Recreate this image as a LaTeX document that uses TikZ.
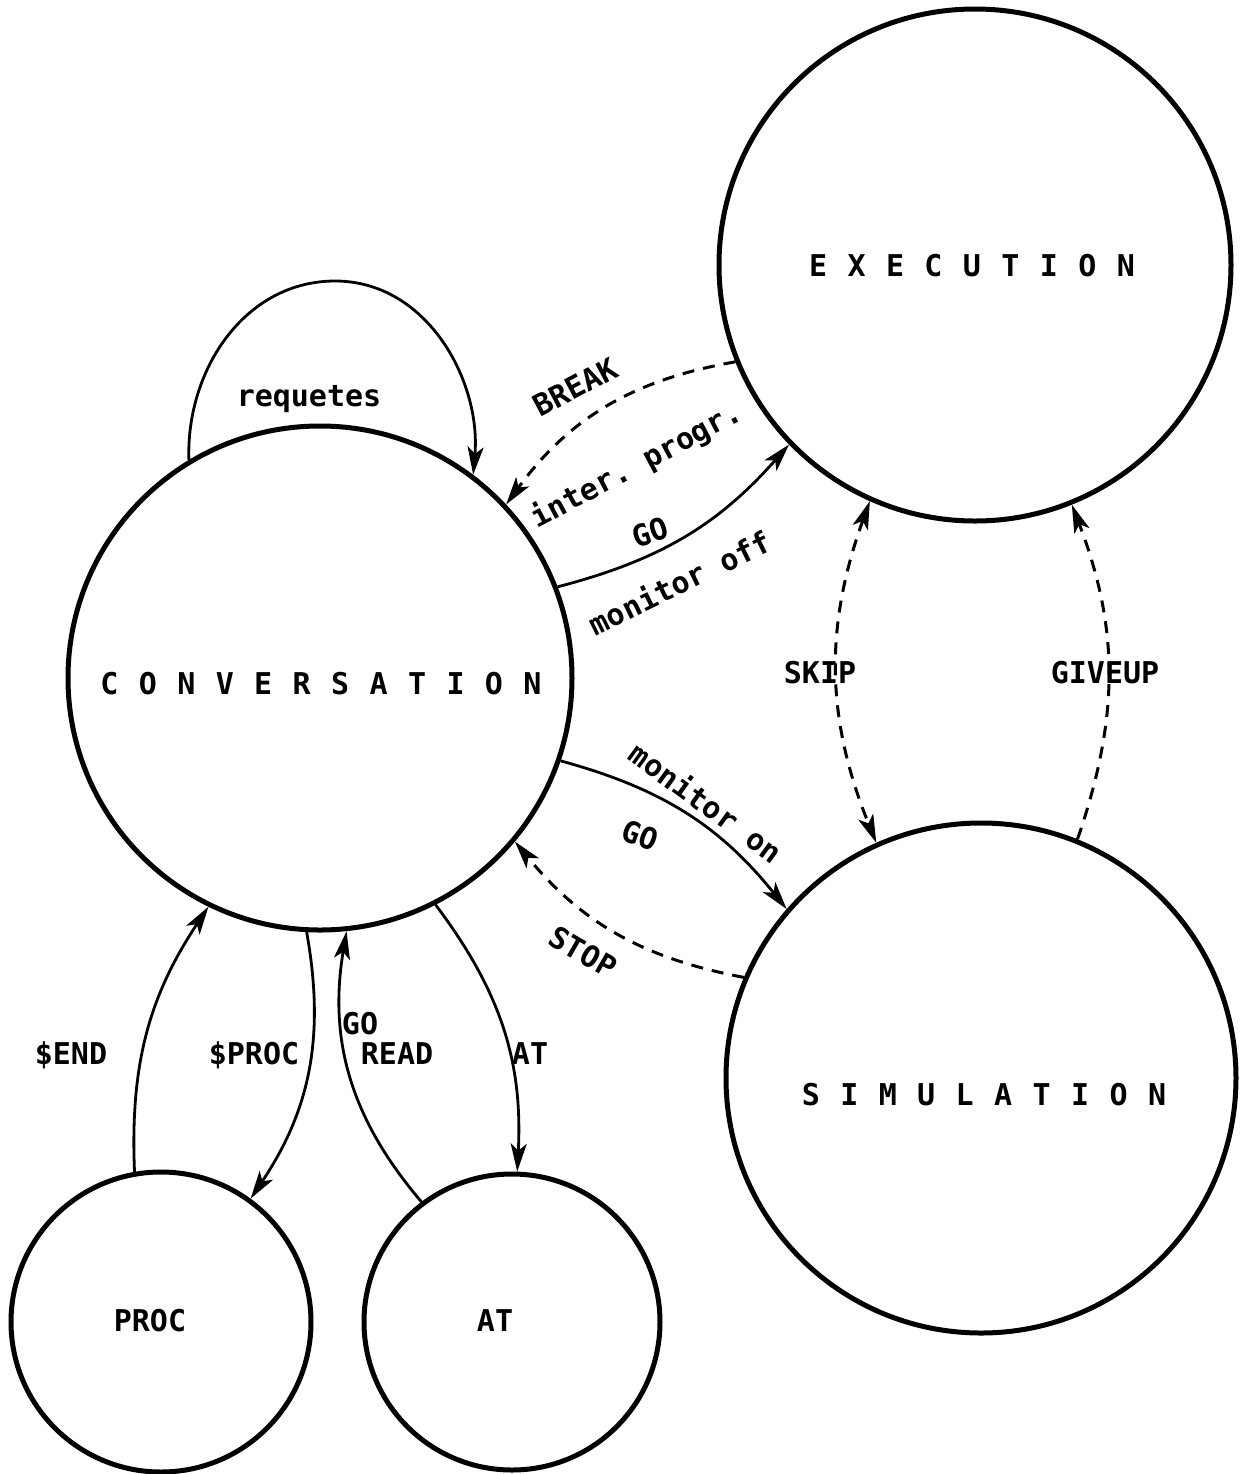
\documentclass[tikz,border=0pt]{standalone}
\usepackage{fontspec}
\setmonofont{DejaVu Sans Mono}
\usetikzlibrary{arrows.meta}
\ExplSyntaxOn
\NewDocumentCommand\spacedword{m}{\tl_map_inline:nn{#1}{##1\kern10.2pt}\kern-10.2pt}
\ExplSyntaxOff
\tikzset{
  state/.style={circle, draw, line width=2.5pt, inner sep=0pt},
  lbl/.style={font=\ttfamily\bfseries\fontsize{15}{18}\selectfont, inner sep=0pt, text height=11pt, text depth=0pt},
  conn/.style={line width=1.4pt, ->},
  dconn/.style={conn, line width=1.5pt, dash pattern=on 6pt off 4.5pt},
}
\begin{document}
\begin{tikzpicture}[x=0.5pt,y=0.5pt,>={Stealth[length=14pt,width=8pt,inset=3.5pt]}]
\useasboundingbox (0,0) rectangle (1240,-1474);
% states
\node[state, minimum size=252pt] (conv) at (320,-678) {};
\node[state, minimum size=256pt] (exec) at (975,-265) {};
\node[state, minimum size=255pt] (sim) at (981,-1078) {};
\node[state, minimum size=150pt] (proc) at (161,-1322) {};
\node[state, minimum size=148pt] (at) at (512,-1322) {};
% state names
\node[lbl] (tconv) at (321,-683) {\spacedword{CONVERSATION}};
\node[lbl] (texec) at (972,-265) {\spacedword{EXECUTION}};
\node[lbl] (tsim) at (984,-1094) {\spacedword{SIMULATION}};
\node[lbl] (tproc) at (150,-1320) {PROC};
\node[lbl] (tat) at (495,-1320) {AT};
% self loop
\coordinate (looptop) at (335,-281);
\draw[conn] (conv.121) to[out=92,in=180] (looptop) to[out=0,in=85] (conv.53);
% transitions
\draw[dconn] (exec.202) to[bend right=22] (conv.43);
\draw[conn] (conv.21) to[bend right=17] (exec.224);
\draw[conn] (conv.-19) to[bend left=18] (sim.139.5);
\draw[dconn] (sim.157.5) to[bend left=20] (conv.-40);
\draw[dconn, <->] (exec.246) to[bend right=21] (sim.114);
\draw[dconn] (sim.68) to[bend right=20] (exec.292);
\draw[conn] (proc.100) to[bend left=18] (conv.244);
\draw[conn] (conv.267) to[bend left=22] (proc.54);
\draw[conn] (at.127) to[bend left=25] (conv.276);
\draw[conn] (conv.297) to[bend left=20] (at.88);
% labels
\node[lbl] (lreq) at (309,-395) {requetes};
\node[lbl, rotate=28] (lbreak) at (575,-387) {BREAK};
\node[lbl, rotate=28] (linter) at (636,-464) {inter. progr.};
\node[lbl, rotate=18] (lgo1) at (650,-532) {GO};
\node[lbl, rotate=26] (lmoff) at (680,-583) {monitor off};
\node[lbl, rotate=-36] (lmon) at (706,-803) {monitor on};
\node[lbl, rotate=-20] (lgo2) at (640,-835) {GO};
\node[lbl, rotate=-30] (lstop) at (583,-952) {STOP};
\node[lbl] (lskip) at (820,-672) {SKIP};
\node[lbl] (lgiveup) at (1105,-672) {GIVEUP};
\node[lbl] (lend) at (71,-1053) {\$END};
\node[lbl] (lproc) at (254,-1053) {\$PROC};
\node[lbl] (lgo3) at (360,-1023) {GO};
\node[lbl] (lread) at (397,-1053) {READ};
\node[lbl] (lat) at (530,-1053) {AT};
\end{tikzpicture}
\end{document}
